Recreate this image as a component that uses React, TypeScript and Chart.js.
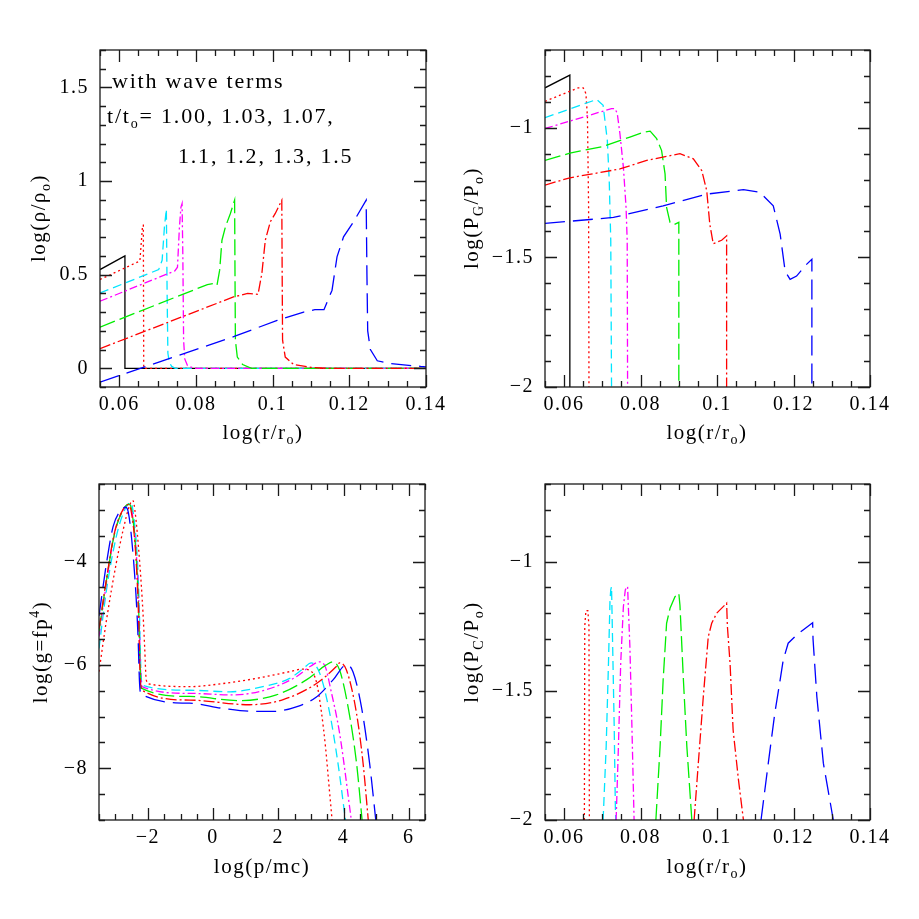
import React, { useEffect, useRef } from 'react';
import { Chart, registerables } from 'chart.js';

Chart.register(...registerables);

type Pt = [number, number];

// ---------- tick values ----------
const radiusTicks = [0.06, 0.08, 0.1, 0.12, 0.14];
const densityTicks = [0, 0.5, 1, 1.5];
const pressureTicks = [-2, -1.5, -1];
const momentumTicks = [-2, 0, 2, 4, 6];
const spectrumTicks = [-8, -6, -4];

// ---------- series labels (t/t_o) ----------
const timeLabels = ['1.00', '1.03', '1.07', '1.1', '1.2', '1.3', '1.5'];

// ---------- panel 1: log(rho/rho_o) vs log(r/r_o) ----------
const rho100: Pt[] = [[0.055, 0.527], [0.0615, 0.6], [0.0615, 0.0], [0.14, 0.0]];
const rho103: Pt[] = [[0.055, 0.474], [0.0654, 0.573], [0.0661, 0.764], [0.0663, 0.764], [0.0664, 0.0], [0.14, 0.0]];
const rho107: Pt[] = [[0.055, 0.402], [0.0703, 0.527], [0.0712, 0.577], [0.0718, 0.755], [0.0723, 0.85], [0.0725, 0.4], [0.0727, 0.08], [0.0731, 0.03], [0.0737, 0.01], [0.0746, 0.0], [0.14, 0.0]];
const rho110: Pt[] = [[0.055, 0.358], [0.0745, 0.52], [0.0752, 0.54], [0.0757, 0.75], [0.0761, 0.86], [0.0764, 0.88], [0.0766, 0.6], [0.0768, 0.15], [0.0771, 0.05], [0.0778, 0.015], [0.0795, 0.0], [0.14, 0.0]];
const rho120: Pt[] = [[0.055, 0.22], [0.083, 0.447], [0.0845, 0.452], [0.0855, 0.443], [0.0862, 0.524], [0.0868, 0.684], [0.0877, 0.755], [0.089, 0.827], [0.0901, 0.898], [0.0902, 0.5], [0.0903, 0.15], [0.0908, 0.06], [0.0922, 0.02], [0.0945, 0.0], [0.14, 0.0]];
const rho130: Pt[] = [[0.055, 0.105], [0.0898, 0.381], [0.0935, 0.4], [0.0962, 0.395], [0.0972, 0.506], [0.0981, 0.684], [0.0994, 0.782], [0.1007, 0.827], [0.1024, 0.898], [0.1025, 0.5], [0.1026, 0.15], [0.1033, 0.06], [0.1055, 0.02], [0.11, 0.005], [0.114, 0.0], [0.14, 0.0]];
const rho150: Pt[] = [[0.055, -0.074], [0.09, 0.17], [0.1012, 0.256], [0.1081, 0.3], [0.111, 0.313], [0.1134, 0.313], [0.1155, 0.417], [0.1168, 0.595], [0.1185, 0.702], [0.1211, 0.782], [0.1244, 0.898], [0.1246, 0.5], [0.1248, 0.2], [0.1255, 0.1], [0.1273, 0.04], [0.1307, 0.025], [0.1386, 0.01], [0.14, 0.008]];

// ---------- panel 2: log(P_G/P_o) vs log(r/r_o) ----------
const pg100: Pt[] = [[0.055, -0.846], [0.0615, -0.797], [0.0615, -2.0]];
const pg103: Pt[] = [[0.055, -0.898], [0.0637, -0.846], [0.065, -0.846], [0.0657, -0.868], [0.0661, -0.958], [0.0664, -1.3], [0.0665, -2.0]];
const pg107: Pt[] = [[0.055, -0.961], [0.0685, -0.891], [0.0702, -0.913], [0.0713, -1.049], [0.0718, -1.204], [0.0722, -1.436], [0.0724, -2.0]];
const pg110: Pt[] = [[0.055, -1.003], [0.0724, -0.926], [0.0733, -0.926], [0.0739, -0.945], [0.0746, -1.023], [0.0755, -1.152], [0.0762, -1.307], [0.0765, -1.436], [0.0766, -2.0]];
const pg120: Pt[] = [[0.055, -1.126], [0.0615, -1.098], [0.0702, -1.072], [0.0772, -1.036], [0.0807, -1.017], [0.0825, -1.013], [0.0842, -1.042], [0.0855, -1.088], [0.0864, -1.178], [0.0868, -1.307], [0.0877, -1.365], [0.0887, -1.374], [0.09, -1.365], [0.09, -2.0]];
const pg130: Pt[] = [[0.055, -1.221], [0.0615, -1.193], [0.0746, -1.159], [0.0816, -1.126], [0.0903, -1.1], [0.0938, -1.12], [0.096, -1.165], [0.0973, -1.243], [0.0981, -1.372], [0.099, -1.447], [0.1012, -1.434], [0.1025, -1.417], [0.1025, -2.0]];
const pg150: Pt[] = [[0.055, -1.369], [0.0729, -1.346], [0.0859, -1.301], [0.0973, -1.256], [0.1069, -1.239], [0.1112, -1.249], [0.1147, -1.301], [0.1165, -1.41], [0.1178, -1.553], [0.1191, -1.585], [0.1208, -1.572], [0.1234, -1.527], [0.1248, -1.507], [0.1248, -2.0]];

// ---------- panel 3: log(g = f p^4) vs log(p/mc) ----------
const g103: Pt[] = [[-3.5, -6.13], [-3.27, -5.13], [-2.97, -4.03], [-2.76, -3.39], [-2.56, -2.91], [-2.46, -2.82], [-2.4, -3.0], [-2.25, -4.03], [-2.15, -5.0], [-2.1, -5.65], [-2.05, -6.29], [-1.95, -6.37], [-0.72, -6.42], [0.3, -6.36], [1.33, -6.26], [2.35, -6.13], [2.75, -6.08], [3.0, -6.12], [3.17, -6.33], [3.32, -6.9], [3.45, -7.6], [3.55, -8.3], [3.65, -9.0]];
const g107: Pt[] = [[-3.5, -5.68], [-3.27, -4.55], [-2.97, -3.52], [-2.71, -3.0], [-2.53, -2.86], [-2.45, -3.05], [-2.32, -4.0], [-2.26, -5.0], [-2.22, -6.0], [-2.18, -6.39], [-0.72, -6.49], [0.51, -6.52], [1.53, -6.42], [2.35, -6.26], [2.75, -6.08], [3.01, -5.96], [3.27, -6.16], [3.58, -6.94], [3.83, -7.9], [4.06, -9.0]];
const g110: Pt[] = [[-3.5, -5.45], [-3.27, -4.4], [-3.02, -3.45], [-2.76, -3.0], [-2.58, -2.89], [-2.5, -3.0], [-2.35, -3.9], [-2.27, -5.0], [-2.23, -6.0], [-2.18, -6.42], [-0.72, -6.55], [0.61, -6.58], [1.63, -6.48], [2.55, -6.23], [3.0, -6.02], [3.27, -5.94], [3.45, -6.05], [3.6, -6.45], [3.88, -7.32], [4.24, -9.0]];
const g120: Pt[] = [[-3.5, -5.35], [-3.27, -4.36], [-3.02, -3.45], [-2.76, -3.0], [-2.58, -2.89], [-2.5, -3.0], [-2.37, -3.8], [-2.28, -5.0], [-2.24, -6.0], [-2.2, -6.45], [-0.72, -6.61], [0.82, -6.69], [1.94, -6.58], [2.86, -6.29], [3.47, -6.0], [3.68, -5.94], [3.88, -6.1], [4.14, -6.81], [4.4, -7.9], [4.57, -9.0]];
const g130: Pt[] = [[-3.5, -5.3], [-3.27, -4.33], [-3.02, -3.43], [-2.76, -2.99], [-2.6, -2.9], [-2.52, -3.0], [-2.38, -3.8], [-2.29, -5.0], [-2.25, -6.0], [-2.2, -6.48], [-0.72, -6.68], [1.12, -6.77], [2.15, -6.67], [3.17, -6.36], [3.78, -6.03], [3.88, -5.96], [4.09, -6.1], [4.4, -6.94], [4.6, -7.9], [4.76, -9.0]];
const g150: Pt[] = [[-3.5, -5.05], [-3.27, -4.03], [-3.07, -3.33], [-2.87, -3.04], [-2.68, -2.95], [-2.6, -3.05], [-2.5, -3.55], [-2.37, -4.6], [-2.3, -5.5], [-2.26, -6.3], [-2.22, -6.56], [-0.72, -6.74], [0.3, -6.84], [1.3, -6.9], [1.84, -6.9], [2.55, -6.81], [3.17, -6.62], [3.68, -6.29], [4.09, -6.0], [4.29, -6.13], [4.55, -6.81], [4.8, -7.9], [4.99, -9.0]];

// ---------- panel 4: log(P_C/P_o) vs log(r/r_o) ----------
const pc103: Pt[] = [[0.0653, -2.0], [0.0654, -1.25], [0.0657, -1.19], [0.0662, -1.19], [0.0665, -1.25], [0.0666, -2.0]];
const pc107: Pt[] = [[0.0702, -2.0], [0.071, -1.716], [0.0716, -1.394], [0.072, -1.15], [0.0722, -1.11], [0.0724, -1.097], [0.0727, -1.33], [0.0731, -1.64], [0.0734, -1.95], [0.0735, -2.0]];
const pc110: Pt[] = [[0.0736, -2.0], [0.0742, -1.716], [0.0748, -1.394], [0.0755, -1.175], [0.076, -1.11], [0.0764, -1.097], [0.0766, -1.097], [0.0772, -1.33], [0.0777, -1.62], [0.0783, -2.0]];
const pc120: Pt[] = [[0.084, -2.0], [0.0851, -1.716], [0.0859, -1.458], [0.0868, -1.239], [0.0877, -1.181], [0.089, -1.136], [0.09, -1.123], [0.0903, -1.17], [0.0912, -1.458], [0.0921, -1.716], [0.0934, -2.0]];
const pc130: Pt[] = [[0.094, -2.0], [0.0951, -1.78], [0.0964, -1.523], [0.0977, -1.291], [0.0986, -1.239], [0.0999, -1.2], [0.1025, -1.161], [0.1027, -1.25], [0.1034, -1.394], [0.1042, -1.652], [0.1056, -1.845], [0.1069, -2.0]];
const pc150: Pt[] = [[0.1115, -2.0], [0.1134, -1.78], [0.1151, -1.587], [0.1165, -1.458], [0.1173, -1.381], [0.1186, -1.316], [0.1208, -1.284], [0.1225, -1.265], [0.125, -1.237], [0.1251, -1.3], [0.1261, -1.523], [0.1278, -1.78], [0.1304, -2.0]];

// ---------- styles ----------
const lineColors = ['#000000', '#ff0000', '#00e5ff', '#ff00ff', '#00ee00', '#ff0000', '#0000ff'];
const lineDashes: number[][] = [[], [2, 3], [9, 5], [8, 3, 2, 3], [16, 5], [11, 3, 2, 3], [20, 8]];

const FONT = "'Liberation Serif', 'Times New Roman', serif";

function fmt(v: number): string {
  const s = String(Math.round(v * 10000) / 10000);
  return s.replace('-', '\u2212');
}

interface PanelSpec {
  left: number; top: number; w: number; h: number;
  pad: { left: number; right: number; top: number; bottom: number };
  xMin: number; xMax: number; yMin: number; yMax: number;
  xTicks: number[]; yTicks: number[];
  xMajor: number; xMinor: number; yMajor: number; yMinor: number;
  series: { data: Pt[]; style: number }[];
  smooth: boolean;
}

function frameTicks(spec: PanelSpec) {
  return {
    id: 'frameTicks',
    beforeDraw(chart: any) {
      try { (chart.ctx as any).letterSpacing = '1.5px'; } catch (e) { /* ignore */ }
    },
    afterDatasetsDraw(chart: any) {
      const { ctx, chartArea: a, scales } = chart;
      const xs = scales.x, ys = scales.y;
      ctx.save();
      ctx.setLineDash([]);
      ctx.strokeStyle = '#1a1a1a';
      ctx.lineWidth = 1.3;
      ctx.strokeRect(a.left, a.top, a.right - a.left, a.bottom - a.top);
      ctx.beginPath();
      const MAJ = 12, MIN = 6;
      const isMajor = (v: number, m: number) => Math.abs(v / m - Math.round(v / m)) < 1e-6;
      let i0 = Math.ceil(spec.xMin / spec.xMinor - 1e-6), i1 = Math.floor(spec.xMax / spec.xMinor + 1e-6);
      for (let i = i0; i <= i1; i++) {
        const v = i * spec.xMinor;
        const L = isMajor(v, spec.xMajor) ? MAJ : MIN;
        const p = Math.round(xs.getPixelForValue(v)) + 0.5;
        ctx.moveTo(p, a.bottom); ctx.lineTo(p, a.bottom - L);
        ctx.moveTo(p, a.top); ctx.lineTo(p, a.top + L);
      }
      i0 = Math.ceil(spec.yMin / spec.yMinor - 1e-6); i1 = Math.floor(spec.yMax / spec.yMinor + 1e-6);
      for (let i = i0; i <= i1; i++) {
        const v = i * spec.yMinor;
        const L = isMajor(v, spec.yMajor) ? MAJ : MIN;
        const p = Math.round(ys.getPixelForValue(v)) + 0.5;
        ctx.moveTo(a.left, p); ctx.lineTo(a.left + L, p);
        ctx.moveTo(a.right, p); ctx.lineTo(a.right - L, p);
      }
      ctx.stroke();
      ctx.restore();
    },
  };
}

function Panel({ spec }: { spec: PanelSpec }) {
  const ref = useRef<HTMLCanvasElement>(null);
  useEffect(() => {
    if (!ref.current) return;
    const n = spec.series.length;
    const tickFont = { family: FONT, size: 20 };
    const chart = new Chart(ref.current, {
      type: 'scatter',
      data: {
        datasets: spec.series.map((s, i) => ({
          label: 't/t0 = ' + timeLabels[s.style],
          data: s.data.map(([x, y]) => ({ x, y })),
          showLine: true,
          borderColor: lineColors[s.style],
          backgroundColor: lineColors[s.style],
          borderWidth: 1.3,
          borderDash: lineDashes[s.style],
          pointRadius: 0,
          pointHoverRadius: 0,
          tension: 0,
          cubicInterpolationMode: spec.smooth ? 'monotone' : 'default',
          fill: false,
          order: n - i,
        })) as any,
      },
      options: {
        responsive: false,
        animation: false,
        devicePixelRatio: 1,
        events: [],
        layout: { padding: spec.pad },
        plugins: { legend: { display: false }, tooltip: { enabled: false }, title: { display: false } },
        scales: {
          x: {
            type: 'linear',
            min: spec.xMin,
            max: spec.xMax,
            grid: { display: false, drawTicks: false },
            border: { display: false },
            ticks: { font: tickFont, color: '#000', padding: 6, maxRotation: 0, autoSkip: false, callback: (v: any) => fmt(Number(v)) },
            afterBuildTicks: (s: any) => { s.ticks = spec.xTicks.map((v) => ({ value: v })); },
            afterFit: (s: any) => { s.height = 40; },
          },
          y: {
            type: 'linear',
            min: spec.yMin,
            max: spec.yMax,
            grid: { display: false, drawTicks: false },
            border: { display: false },
            ticks: { font: tickFont, color: '#000', padding: 11, autoSkip: false, callback: (v: any) => fmt(Number(v)) },
            afterBuildTicks: (s: any) => { s.ticks = spec.yTicks.map((v) => ({ value: v })); },
            afterFit: (s: any) => { s.width = 60; },
          },
        },
      } as any,
      plugins: [frameTicks(spec)],
    });
    return () => chart.destroy();
  }, []);
  return (
    <canvas
      ref={ref}
      width={spec.w}
      height={spec.h}
      style={{ position: 'absolute', left: spec.left, top: spec.top, width: spec.w, height: spec.h }}
    />
  );
}

const panels: PanelSpec[] = [
  {
    left: 0, top: 0, w: 460, h: 460,
    pad: { left: 40, right: 34, top: 50, bottom: 33 },
    xMin: 0.055, xMax: 0.14, yMin: -0.1, yMax: 1.7,
    xTicks: radiusTicks, yTicks: densityTicks,
    xMajor: 0.02, xMinor: 0.005, yMajor: 0.5, yMinor: 0.1,
    series: [rho100, rho103, rho107, rho110, rho120, rho130, rho150].map((d, i) => ({ data: d, style: i })),
    smooth: false,
  },
  {
    left: 460, top: 0, w: 459, h: 460,
    pad: { left: 25, right: 49, top: 50, bottom: 33 },
    xMin: 0.055, xMax: 0.14, yMin: -2, yMax: -0.7,
    xTicks: radiusTicks, yTicks: pressureTicks,
    xMajor: 0.02, xMinor: 0.005, yMajor: 0.5, yMinor: 0.1,
    series: [pg100, pg103, pg107, pg110, pg120, pg130, pg150].map((d, i) => ({ data: d, style: i })),
    smooth: false,
  },
  {
    left: 0, top: 460, w: 460, h: 459,
    pad: { left: 39, right: 35, top: 24, bottom: 59 },
    xMin: -3.5, xMax: 6.5, yMin: -9, yMax: -2.5,
    xTicks: momentumTicks, yTicks: spectrumTicks,
    xMajor: 2, xMinor: 0.5, yMajor: 2, yMinor: 0.5,
    series: [g103, g107, g110, g120, g130, g150].map((d, i) => ({ data: d, style: i + 1 })),
    smooth: true,
  },
  {
    left: 460, top: 460, w: 459, h: 459,
    pad: { left: 25, right: 49, top: 24, bottom: 59 },
    xMin: 0.055, xMax: 0.14, yMin: -2, yMax: -0.7,
    xTicks: radiusTicks, yTicks: pressureTicks,
    xMajor: 0.02, xMinor: 0.005, yMajor: 0.5, yMinor: 0.1,
    series: [pc103, pc107, pc110, pc120, pc130, pc150].map((d, i) => ({ data: d, style: i + 1 })),
    smooth: false,
  },
];

const textBase: React.CSSProperties = {
  position: 'absolute',
  fontFamily: FONT,
  fontSize: 21,
  lineHeight: '21px',
  letterSpacing: '1.5px',
  color: '#000',
  whiteSpace: 'nowrap',
};
const subStyle: React.CSSProperties = { fontSize: 14, verticalAlign: -5, lineHeight: 0 };
const supStyle: React.CSSProperties = { fontSize: 14, verticalAlign: 8, lineHeight: 0 };

function XTitle({ x, y, children }: { x: number; y: number; children: React.ReactNode }) {
  return <div style={{ ...textBase, left: x, top: y, transform: 'translate(-50%, -50%)' }}>{children}</div>;
}
function YTitle({ x, y, children }: { x: number; y: number; children: React.ReactNode }) {
  return <div style={{ ...textBase, left: x, top: y, transform: 'translate(-50%, -50%) rotate(-90deg)' }}>{children}</div>;
}

export default function App() {
  const annot: React.CSSProperties = { ...textBase, fontSize: 22, lineHeight: '22px', letterSpacing: '1.8px' };
  return (
    <div style={{ position: 'absolute', left: 0, top: 0, width: 919, height: 919, background: '#fff', overflow: 'hidden' }}>
      {panels.map((p, i) => <Panel key={i} spec={p} />)}

      <XTitle x={263} y={432}>log(r/r<span style={subStyle}>o</span>)</XTitle>
      <XTitle x={707} y={432}>log(r/r<span style={subStyle}>o</span>)</XTitle>
      <XTitle x={262} y={866}>log(p/mc)</XTitle>
      <XTitle x={707} y={866}>log(r/r<span style={subStyle}>o</span>)</XTitle>

      <YTitle x={38} y={218}>log(ρ/ρ<span style={subStyle}>o</span>)</YTitle>
      <YTitle x={471} y={218}>log(P<span style={subStyle}>G</span>/P<span style={subStyle}>o</span>)</YTitle>
      <YTitle x={40} y={652}>log(g=fp<span style={supStyle}>4</span>)</YTitle>
      <YTitle x={471} y={652}>log(P<span style={subStyle}>C</span>/P<span style={subStyle}>o</span>)</YTitle>

      <div style={{ ...annot, left: 112, top: 70 }}>with wave terms</div>
      <div style={{ ...annot, left: 107, top: 105 }}>t/t<span style={subStyle}>o</span>= 1.00, 1.03, 1.07,</div>
      <div style={{ ...annot, left: 178, top: 145 }}>1.1, 1.2, 1.3, 1.5</div>
    </div>
  );
}
